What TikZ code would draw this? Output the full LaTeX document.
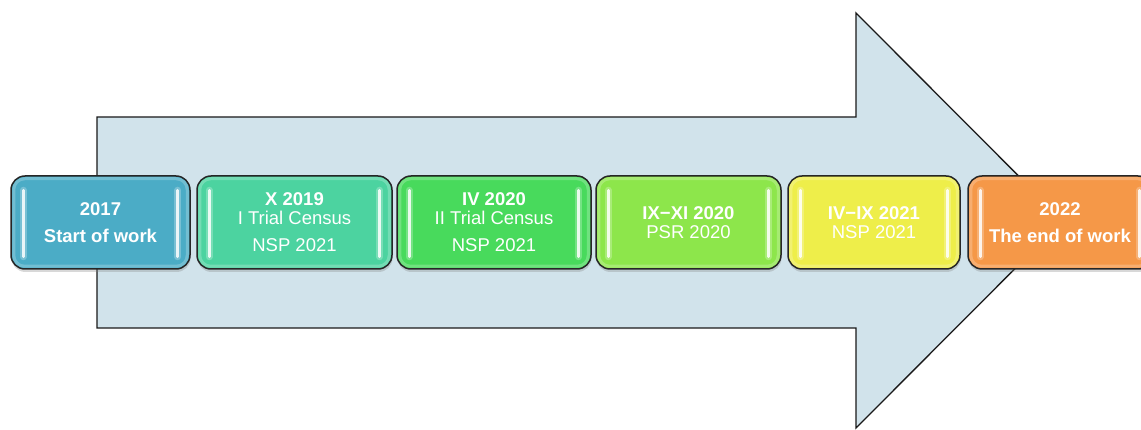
\documentclass[tikz,border=0pt]{standalone}
\usepackage{fontspec}
\setmainfont{Liberation Sans}
\usetikzlibrary{calc,shadows}
\definecolor{arrowfill}{HTML}{D1E3EB}
\definecolor{cA}{HTML}{4BACC6}
\definecolor{cB}{HTML}{4CD3A0}
\definecolor{cC}{HTML}{48DA5C}
\definecolor{cD}{HTML}{8DE64B}
\definecolor{cE}{HTML}{EEEE4A}
\definecolor{cF}{HTML}{F59848}
\tikzset{
  bigarrow/.style={fill=arrowfill, draw=black!90, line width=1.3pt, line join=miter},
  stagebox/.style={draw=black!85, line width=1.5pt, rounded corners=14pt, text=white,
    align=center, font=\fontsize{18.5}{19}\selectfont, inner sep=0pt,
    minimum height=93pt,
    drop shadow={shadow xshift=0.5pt, shadow yshift=-3pt, opacity=0.3}},
  hilite/.style={line width=2.8pt, line cap=round, draw=white, opacity=0.85},
  higlow/.style={line width=7pt, line cap=round, draw=white, opacity=0.25},
  innerglow/.style={draw=white, opacity=0.22, line width=3pt, rounded corners=11pt},
}
\begin{document}
\begin{tikzpicture}[x=1pt,y=-1pt]
\clip (0,0) rectangle (1141,430);
\fill[white] (0,0) rectangle (1141,430);
\draw[bigarrow] (97,117) -- (856,117) -- (856,13) -- (1063,220.5) -- (856,428) -- (856,328) -- (97,328) -- cycle;

\node[stagebox, fill=cA, minimum width=179pt] (b1) at (100.5,222.5)
  {\textbf{2017}\\[8pt]\textbf{Start of work}};
\node[stagebox, fill=cB, minimum width=195pt] (b2) at (294.5,222.5)
  {\textbf{X 2019}\\I Trial Census\\[8pt]NSP 2021};
\node[stagebox, fill=cC, minimum width=194pt] (b3) at (494,222.5)
  {\textbf{IV 2020}\\II Trial Census\\[8pt]NSP 2021};
\node[stagebox, fill=cD, minimum width=185pt] (b4) at (688.5,222.5)
  {\textbf{IX−XI 2020}\\PSR 2020};
\node[stagebox, fill=cE, minimum width=172pt] (b5) at (874,222.5)
  {\textbf{IV−IX 2021}\\NSP 2021};
\node[stagebox, fill=cF, minimum width=184pt] (b6) at (1060,222.5)
  {\textbf{2022}\\[8pt]\textbf{The end of work}};

\foreach \b in {b1,b2,b3,b4,b5,b6} {
  \draw[innerglow] ($(\b.north west)+(3.5,3.5)$) rectangle ($(\b.south east)+(-3.5,-3.5)$);
  \draw[higlow] ($(\b.north west)+(13,15)$) -- ($(\b.south west)+(13,-13)$);
  \draw[hilite] ($(\b.north west)+(13,15)$) -- ($(\b.south west)+(13,-13)$);
  \draw[higlow] ($(\b.north east)+(-13,15)$) -- ($(\b.south east)+(-13,-13)$);
  \draw[hilite] ($(\b.north east)+(-13,15)$) -- ($(\b.south east)+(-13,-13)$);
}
\end{tikzpicture}
\end{document}
